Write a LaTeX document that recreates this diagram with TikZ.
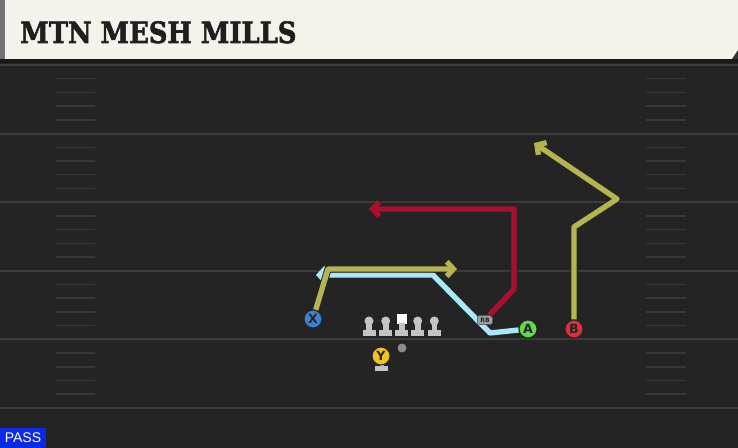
\documentclass[tikz,border=0pt]{standalone}
\usepackage{fontspec}
\setmainfont{DejaVu Sans}
\newfontfamily\titlefont{DejaVu Serif}[BoldFeatures={FakeBold=2}]
\newfontfamily\tagfont{Liberation Sans}
\usetikzlibrary{arrows.meta}

\definecolor{fieldgray}{HTML}{242424}
\definecolor{yardline}{HTML}{3B3B3B}
\definecolor{hashline}{HTML}{383838}
\definecolor{headcream}{HTML}{F5F2EB}
\definecolor{routeolive}{HTML}{B4B450}
\definecolor{routeblue}{HTML}{A8E8F8}
\definecolor{routered}{HTML}{A8102E}
\definecolor{xblue}{HTML}{3D80D8}
\definecolor{agreen}{HTML}{62D84C}
\definecolor{bred}{HTML}{E0303E}
\definecolor{yyellow}{HTML}{F2C21E}
\definecolor{pawngray}{HTML}{C4C4C4}
\definecolor{passblue}{HTML}{0A2AE6}

\tikzset{
  route/.style={line width=4pt, line join=round,
    -{Straight Barb[length=5pt,width=11pt]},
    preaction={draw=black!85, line width=5.4pt}},
  player/.style={circle, draw=black!85, line width=0.8pt, minimum size=13.5pt,
    inner sep=0pt, font=\bfseries\fontsize{9.5}{9.5}\selectfont, text=black!85},
}

\begin{document}
\begin{tikzpicture}[x=0.75pt,y=-0.75pt]
  \useasboundingbox (0,0) rectangle (738,448);
  % field
  \fill[fieldgray] (0,0) rectangle (738,448);
  % header
  \fill[black!90] (0,58) rectangle (738,63);
  \fill[headcream] (5,0) rectangle (738,59);
  \fill[black!55] (0,0) rectangle (5,59);
  \fill[black!80] (738,50) -- (738,59) -- (732,59) -- cycle;
  \node[anchor=base west, inner sep=0pt, text=black!88] (title) at (20,43)
    {\scalebox{0.88}[1]{\titlefont\bfseries\fontsize{22}{22}\selectfont MTN MESH MILLS}};
  % yard lines and hash marks
  \foreach \k in {0,...,5}
    \draw[yardline, line width=1.5pt] (0,65+68.6*\k) -- (738,65+68.6*\k);
  \foreach \k in {0,...,4}
    \foreach \j in {1,...,4} {
      \draw[hashline, line width=1.1pt] (56,65+68.6*\k+13.7*\j) -- (95,65+68.6*\k+13.7*\j);
      \draw[hashline, line width=1.1pt] (646,65+68.6*\k+13.7*\j) -- (686,65+68.6*\k+13.7*\j);
    }
  % players
  \node[player, fill=xblue] (x) at (313,319) {X};
  \node[player, fill=agreen] (a) at (528,329) {A};
  \node[player, fill=bred] (b) at (574,329) {B};
  % route ends
  \coordinate (xend) at (457,269);
  \coordinate (aend) at (316,275);
  \coordinate (rbend) at (369,209);
  \coordinate (bend) at (534,143);
  % routes
  \draw[route, routeblue] (a) -- (490,333) -- (433,275) -- (aend);
  \draw[route, routeolive] (x) -- (328,269) -- (xend);
  \draw[route, routeolive] (b) -- (574,227) -- (617,199) -- (bend);
  \node[draw=black!70, fill=black!38, rounded corners=2pt, inner sep=0.8pt,
    minimum width=11.5pt, minimum height=7pt, text=black!85,
    font=\bfseries\fontsize{4.5}{4.5}\selectfont] (rb) at (485,320) {RB};
  \draw[route, routered] (rb) -- (514,289) -- (514,209) -- (rbend);
  % line
  \foreach \px in {369,385.7,417.7,434.3} {
    \fill[pawngray] (\px-6.5,330) rectangle (\px+6.5,336);
    \fill[pawngray] (\px-2.8,323) rectangle (\px+2.8,331);
    \fill[pawngray] (\px,321) circle (4.5);
  }
  \fill[white] (397,314) rectangle (406.5,324);
  \fill[pawngray] (395.2,330) rectangle (408.2,336);
  \fill[pawngray] (399,323) rectangle (404.6,331);
  \fill[black!45] (402,348) circle (4.5);
  % Y
  \fill[pawngray] (375,366) rectangle (388,371);
  \fill[pawngray] (379.5,362) rectangle (383.5,367);
  \node[player, fill=yyellow] (y) at (381,356) {Y};
  % tag
  \node[anchor=south west, fill=passblue, text=white, inner sep=0pt,
    minimum width=34pt, minimum height=15pt, font=\tagfont\fontsize{10.5}{10.5}\selectfont]
    (pass) at (0,448) {PASS};
\end{tikzpicture}
\end{document}
